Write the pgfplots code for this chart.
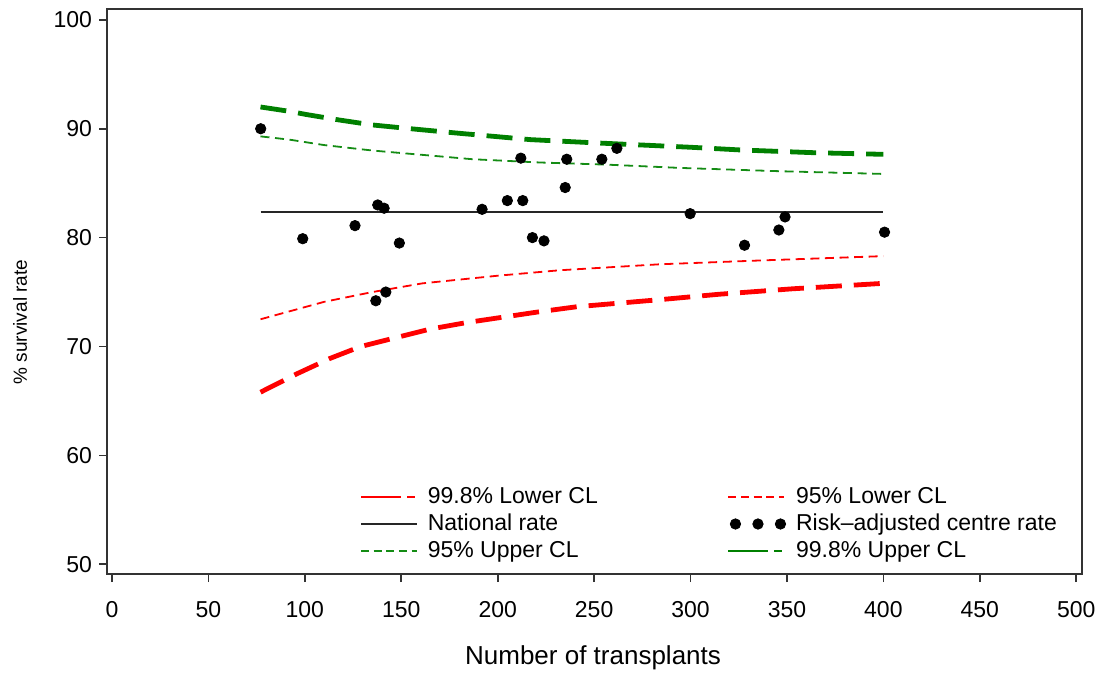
\documentclass[border=0pt]{standalone}
\usepackage{pgfplots}
\pgfplotsset{compat=1.18}
\usepackage{fontspec}
\setmainfont{Liberation Sans}
\definecolor{sasred}{RGB}{255,0,0}
\definecolor{sasgreen}{RGB}{0,128,0}
\definecolor{saslgreen}{RGB}{20,140,20}
\begin{document}
\begin{tikzpicture}
\begin{axis}[
 scale only axis, width=487.5pt, height=282.5pt,
 xmin=-2.6, xmax=503, ymin=49.1, ymax=101,
 xtick={0,50,...,500}, ytick={50,60,...,100},
 tick pos=left, tick align=outside, major tick length=4pt,
 axis line style={line width=0.8pt, black!80},
 every tick/.style={line width=0.8pt, black!80},
 tick label style={font=\fontsize{11.5}{13}\selectfont},
 /pgf/number format/assume math mode=true,
 xticklabel style={yshift=-6pt},
 yticklabel style={xshift=0pt},
 xlabel={Number of transplants}, ylabel={\% survival rate},
 xlabel style={font=\fontsize{13}{15}\selectfont, at={(axis description cs:0.4985,-0.1487)}, anchor=center},
 ylabel style={font=\fontsize{9.5}{11}\selectfont, at={(axis description cs:-0.0892,0.446)}, anchor=center},
 legend columns=2,
 legend cell align=left,
 legend style={at={(0.2595,0.160)}, anchor=north west, draw=none, fill=none, inner sep=0pt,
   font=\fontsize{11.5}{13}\selectfont, row sep=0.5pt,
   nodes={inner sep=1pt, text height=8.5pt, text depth=2.5pt},
   /tikz/every odd column/.append style={column sep=4pt},
   /tikz/every even column/.append style={column sep=64pt}},
]
% 99.8% lower CL
\addplot[sasred, line width=2.4pt, dash pattern=on 13pt off 6pt,
  legend image code/.code={\draw[sasred, line width=0.6pt, dash pattern=on 20pt off 3pt on 4pt off 3pt] (0pt,0pt) -- (28pt,0pt);}]
 table {
77 65.8
96 67.5
113 68.9
129 70.0
147 70.8
165 71.6
184 72.2
203 72.7
222 73.2
241 73.65
284 74.3
315 74.8
353 75.3
400 75.8
};
\addlegendentry{99.8\% Lower CL}
% 95% lower CL
\addplot[sasred, line width=0.9pt, dash pattern=on 4.5pt off 2.8pt,
  legend image code/.code={\draw[sasred, line width=0.6pt, dash pattern=on 4pt off 2.3pt] (0pt,0pt) -- (28pt,0pt);}]
 table {
77 72.5
110 74.1
135 75.0
161 75.8
200 76.5
232 77.0
284 77.55
336 77.9
400 78.3
};
\addlegendentry{95\% Lower CL}
% national rate
\addplot[black!85, line width=0.8pt,
  legend image code/.code={\draw[black!85, line width=0.7pt] (0pt,0pt) -- (28pt,0pt);}]
 table {
77 82.35
400 82.35
};
\addlegendentry{National rate}
% centre rates
\addplot[only marks, mark=*, mark size=2.6pt, black,
  legend image code/.code={\fill[black] (3.5pt,0pt) circle (2.6pt); \fill[black] (14.75pt,0pt) circle (2.6pt); \fill[black] (26pt,0pt) circle (2.6pt);}]
 table {
77.1 90.0
98.9 79.9
126 81.1
137.8 83.0
141.1 82.7
149 79.5
142 75.0
136.8 74.2
191.9 82.6
205 83.4
213 83.4
212 87.3
218 80.0
224 79.7
235 84.6
235.8 87.2
254 87.2
261.8 88.2
299.8 82.2
328 79.3
345.8 80.7
349 81.9
400.6 80.5
};
\addlegendentry{Risk--adjusted centre rate}
% 95% upper CL
\addplot[saslgreen, line width=0.9pt, dash pattern=on 4.5pt off 2.8pt,
  legend image code/.code={\draw[saslgreen, line width=0.6pt, dash pattern=on 4pt off 2.3pt] (0pt,0pt) -- (28pt,0pt);}]
 table {
77 89.3
92 89.0
110 88.5
135 88.0
161 87.6
187 87.2
222 86.9
257 86.7
295 86.4
346 86.1
400 85.85
};
\addlegendentry{95\% Upper CL}
% 99.8% upper CL
\addplot[sasgreen, line width=2.4pt, dash pattern=on 13pt off 6pt,
  legend image code/.code={\draw[sasgreen, line width=0.6pt, dash pattern=on 20pt off 3pt on 4pt off 3pt] (0pt,0pt) -- (28pt,0pt);}]
 table {
77 92.0
92 91.6
101 91.3
118 90.8
135 90.35
155 90.0
179 89.6
217 89.0
251 88.7
300 88.3
326 88.05
364 87.8
400 87.65
};
\addlegendentry{99.8\% Upper CL}
\end{axis}
\pgfresetboundingbox
\path ([shift={(-53.5pt,-50.5pt)}]current axis.south west) rectangle ([shift={(9.5pt,4.5pt)}]current axis.north east);
\end{tikzpicture}
\end{document}
